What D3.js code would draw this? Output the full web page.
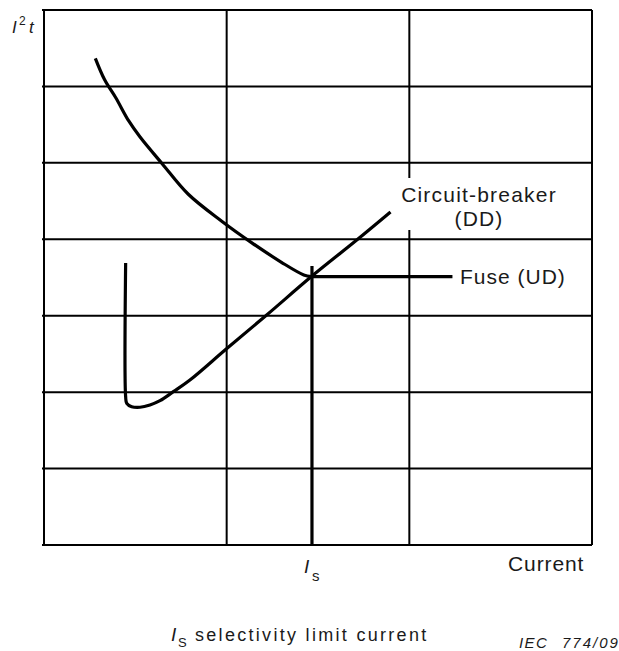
<!DOCTYPE html>
<html>
<head>
<meta charset="utf-8">
<script src="https://cdn.jsdelivr.net/npm/d3@7"></script>
<style>
  html, body { margin: 0; padding: 0; background: #fff; }
  svg { display: block; font-family: "Liberation Sans", Arial, sans-serif; }
</style>
</head>
<body>
<svg id="chart" width="619" height="651"></svg>
<script>
// ---- data (grid units: 3 current divisions x 7 I²t divisions) ----
const gridCols = [0, 1, 2, 3];
const gridRows = [0, 1, 2, 3, 4, 5, 6, 7];

// Fuse (UD) I²t characteristic
const fuseX = [0.281, 0.332, 0.393, 0.464, 0.526, 0.648, 0.790, 0.973, 1.136, 1.300, 1.422, 1.464];
const fuseY = [6.368, 6.087, 5.852, 5.548, 5.338, 4.986, 4.589, 4.237, 3.957, 3.699, 3.534, 3.512];
// horizontal tail of fuse characteristic
const fuseTailX = [1.464, 2.236];
const fuseTailY = [3.512, 3.512];

// Circuit-breaker (DD) let-through I²t curve
const cbX = [0.447, 0.447, 0.453, 0.480, 0.526, 0.580, 0.635, 0.708, 0.799, 0.996, 1.219, 1.464, 1.707, 1.897];
const cbY = [3.690, 1.940, 1.854, 1.810, 1.802, 1.832, 1.888, 2.006, 2.159, 2.561, 3.009, 3.512, 3.980, 4.357];

// selectivity limit current
const isValue = 1.467;
const isTop = 3.65;

// ---- drawing ----
const svg = d3.select("#chart");
const x = d3.scaleLinear().domain([0, 3]).range([44, 592]);
const y = d3.scaleLinear().domain([0, 7]).range([545, 10]);

// grid
svg.append("g").selectAll("line").data(gridRows).join("line")
  .attr("x1", x(0) - 2).attr("x2", x(3))
  .attr("y1", d => y(d)).attr("y2", d => y(d))
  .attr("stroke", "#000").attr("stroke-width", 2);
svg.append("g").selectAll("line").data(gridCols).join("line")
  .attr("x1", d => x(d)).attr("x2", d => x(d))
  .attr("y1", y(7)).attr("y2", y(0))
  .attr("stroke", "#000").attr("stroke-width", 2);

// label box for circuit-breaker (hides grid line behind the text)
svg.append("rect").attr("x", 398).attr("y", 178).attr("width", 166).attr("height", 52).attr("fill", "#fff");

const line = d3.line().curve(d3.curveCatmullRom.alpha(0.5));
const lineStraight = d3.line();

// fuse curve
svg.append("path")
  .attr("d", line(fuseX.map((v, i) => [x(v), y(fuseY[i])])))
  .attr("fill", "none").attr("stroke", "#000").attr("stroke-width", 3.2);
svg.append("path")
  .attr("d", lineStraight(fuseTailX.map((v, i) => [x(v), y(fuseTailY[i])])))
  .attr("fill", "none").attr("stroke", "#000").attr("stroke-width", 3.2);

// circuit-breaker curve
svg.append("path")
  .attr("d", line(cbX.map((v, i) => [x(v), y(cbY[i])])))
  .attr("fill", "none").attr("stroke", "#000").attr("stroke-width", 3.2).attr("stroke-linejoin", "round");

// Is vertical
svg.append("line")
  .attr("x1", x(isValue)).attr("x2", x(isValue))
  .attr("y1", y(isTop)).attr("y2", y(0))
  .attr("stroke", "#000").attr("stroke-width", 3.2);

// ---- texts ----
const txt = (xx, yy, s, size, opts = {}) => {
  const t = svg.append("text").attr("x", xx).attr("y", yy).text(s)
    .attr("font-size", size).attr("fill", "#1a1a1a");
  if (opts.italic) t.attr("font-style", "italic");
  if (opts.ls) t.attr("letter-spacing", opts.ls);
  if (opts.anchor) t.attr("text-anchor", opts.anchor);
  return t;
};

// y-axis label I²t
txt(12, 33, "I", 17, { italic: true });
txt(19, 25, "2", 12);
txt(29, 33, "t", 17, { italic: true });

txt(479, 202, "Circuit-breaker", 21, { ls: 1.2, anchor: "middle" });
txt(479, 226, "(DD)", 21, { ls: 1.2, anchor: "middle" });
txt(460, 284, "Fuse (UD)", 21, { ls: 1 });
txt(508, 571, "Current", 21, { ls: 0.9 });

// Is label under axis
txt(304, 573, "I", 19, { italic: true });
txt(312, 581, "s", 15);

// caption
txt(171, 641, "I", 19, { italic: true });
txt(178, 647, "S", 13);
txt(195, 641, "selectivity limit current", 18, { ls: 2.3 });
txt(519, 648, "IEC", 15, { italic: true, ls: 1.4 });
txt(562, 648, "774/09", 15, { italic: true, ls: 2 });
</script>
</body>
</html>
